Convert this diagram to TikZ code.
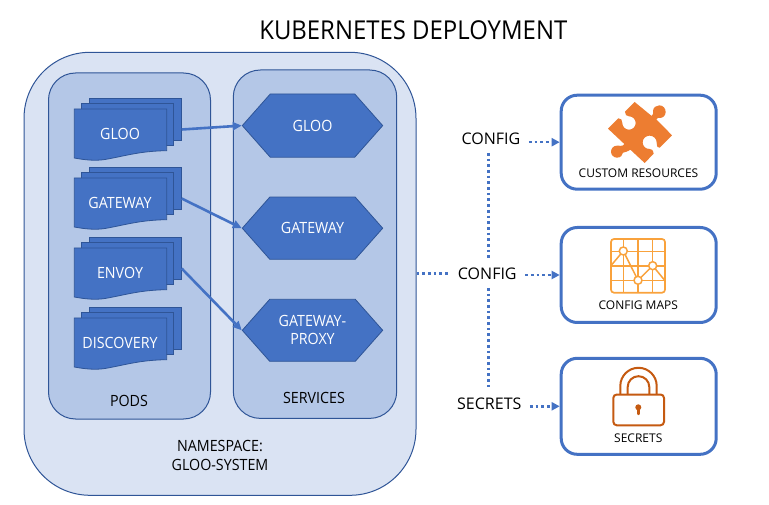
\documentclass[tikz,border=0pt]{standalone}
\usepackage{fontspec}
\setmainfont{Open Sans}
\newfontfamily\narrowfamily[FakeStretch=0.92]{Open Sans}
\usetikzlibrary{arrows.meta,shapes.symbols}
\definecolor{paleblue}{HTML}{DAE3F3}
\definecolor{midblue}{HTML}{B4C7E7}
\definecolor{solidblue}{HTML}{4472C4}
\definecolor{edgeblue}{HTML}{2F5597}
\definecolor{puzzleorange}{HTML}{ED7D31}
\definecolor{maporange}{HTML}{F9A23C}
\definecolor{lockorange}{HTML}{C55A11}
\def\bigfont{\narrowfamily\fontsize{26}{30}\selectfont}
\def\midfont{\narrowfamily\fontsize{15.5}{18.3}\selectfont}
\def\tagfont{\fontsize{16}{18}\selectfont}
\def\smallfont{\fontsize{12}{14}\selectfont}
\tikzset{
	panel/.style={draw=edgeblue, line width=1pt, inner sep=0pt},
	podsheet/.style={draw=edgeblue, fill=solidblue, line width=0.8pt, inner sep=0pt},
	bluetext/.style={text=white, font=\midfont, inner sep=0pt, align=center},
	blacktext/.style={text=black, font=\midfont, inner sep=0pt, align=center},
	hexbox/.style={shape=signal, signal to=east and west, signal pointer angle=97, draw=edgeblue, fill=solidblue, line width=0.8pt, inner sep=0pt, minimum width=140.4pt, text=white, font=\midfont, align=center},
	sidebox/.style={draw=solidblue, fill=white, line width=3pt, rounded corners=16pt, minimum width=155pt, inner sep=0pt},
	sidetext/.style={text=black, font=\smallfont, inner sep=0pt},
	tagtext/.style={text=black, font=\tagfont, inner xsep=8.5pt, inner ysep=8.7pt, outer sep=0pt},
	podarrow/.style={draw=solidblue, line width=2.6pt, -{Triangle[length=9pt,width=8pt]}},
	dotline/.style={draw=solidblue, line width=2.6pt, dash pattern=on 2.7pt off 3pt},
	dotarrow/.style={dotline, -{Triangle[length=8pt,width=8pt]}}
}
\def\podstack(#1)(#2)#3{
	\begin{scope}[shift={(0,#2)}]
		\node[podsheet, minimum width=92.7pt, minimum height=41.7pt] (#1back) at (135.35,10.15) {};
		\node[podsheet, minimum width=92pt, minimum height=42.4pt] (#1mid) at (127.7,15.5) {};
		\draw[podsheet] (74.3,0) -- (166.7,0) -- (166.7,41.7) .. controls (140,42) and (125,47) .. (105,50.5) .. controls (95,52) and (85,51) .. (74.3,49) -- cycle;
		\node[bluetext] (#1) at (120,24.5) {#3};
		\coordinate (#1out) at (181.7,20.5);
	\end{scope}
}

\begin{document}
\begin{tikzpicture}[x=1pt,y=-1pt]
	%%%%% START %%%%%
	\useasboundingbox (0,0) rectangle (769,505);

	\node[text=black, font=\bigfont, inner sep=0pt] (title) at (413.3,30) {KUBERNETES DEPLOYMENT};

	\node[panel, fill=paleblue, rounded corners=66pt, minimum width=392pt, minimum height=443pt] (namespace) at (220,273.8) {};
	\node[panel, fill=midblue, rounded corners=27pt, minimum width=162pt, minimum height=346pt] (pods) at (129.5,246) {};
	\node[panel, fill=midblue, rounded corners=27pt, minimum width=163.4pt, minimum height=348.4pt] (services) at (315,244.2) {};

	\podstack(gloo)(109){GLOO}
	\podstack(gateway)(178){GATEWAY}
	\podstack(envoy)(248){ENVOY}
	\podstack(discovery)(318){DISCOVERY}

	\node[hexbox, minimum height=63.3pt] (hexgloo) at (312.5,125.6) {GLOO};
	\node[hexbox, minimum height=62.3pt] (hexgateway) at (312.5,228.2) {GATEWAY};
	\node[hexbox, minimum height=62pt] (hexproxy) at (312.5,330.3) {GATEWAY-\\PROXY};

	\draw[podarrow] (glooout) -- (hexgloo.west);
	\draw[podarrow] (gatewayout) -- (hexgateway.west);
	\draw[podarrow] (envoyout) -- (hexproxy.west);

	\node[blacktext] (podslabel) at (129,400.7) {PODS};
	\node[blacktext] (serviceslabel) at (314,397.7) {SERVICES};
	\node[blacktext] (namespacelabel) at (220,455.5) {NAMESPACE:\\GLOO-SYSTEM};

	\node[sidebox, minimum height=94pt] (customres) at (638.7,142.2) {};
	\node[sidebox, minimum height=95pt] (configmaps) at (638.7,275) {};
	\node[sidebox, minimum height=96pt] (secretsbox) at (638.7,406.3) {};

	\node[sidetext] (customlabel) at (638.5,173.3) {CUSTOM RESOURCES};
	\node[sidetext] (mapslabel) at (638.3,305.7) {CONFIG MAPS};
	\node[sidetext] (secretslabel) at (638.3,438.3) {SECRETS};

	\node[tagtext] (tagcustom) at (491,138.3) {CONFIG};
	\node[tagtext] (tagmaps) at (487.3,273.3) {CONFIG};
	\node[tagtext] (tagsecrets) at (489.3,404) {SECRETS};

	\coordinate (spine) at (488.7,0);
	\draw[dotline] (namespace.east) -- (namespace.east -| tagmaps.west);
	\draw[dotline] (tagcustom.south -| spine) -- (tagmaps.north -| spine);
	\draw[dotline] (tagmaps.south -| spine) -- (tagsecrets.north -| spine);
	\draw[dotarrow] (customres.west -| tagcustom.east) -- (customres.west);
	\draw[dotarrow] (configmaps.west -| tagmaps.east) -- (configmaps.west);
	\draw[dotarrow] (secretsbox.west -| tagsecrets.east) -- (secretsbox.west);

	% puzzle piece
	\begin{scope}[shift={(603,98)}, x=0.3333pt, y=-0.3333pt]
		\fill[puzzleorange] (95,12) -- (146,54) .. controls (153,50) and (150,44) .. (150,40) .. controls (150,28) and (160,22) .. (169,22) .. controls (180,22) and (188,31) .. (188,42) .. controls (188,54) and (178,60) .. (171,60) .. controls (167,60) and (162,58) .. (160,64) -- (207,112) -- (170,149) .. controls (165,152) and (161,146) .. (161,133) .. controls (161,122) and (151,113) .. (140,113) .. controls (128,113) and (119,122) .. (119,133) .. controls (119,145) and (128,153) .. (140,153) .. controls (146,153) and (150,155) .. (152,167) -- (125,195) -- (82,155) .. controls (76,160) and (62,164) .. (60,164) .. controls (60,172) and (52,179) .. (42,179) .. controls (32,179) and (24,171) .. (24,161) .. controls (24,151) and (32,143) .. (42,143) .. controls (50,143) and (60,146) .. (64,138) -- (15,92) -- (46,61) .. controls (54,60) and (58,66) .. (58,75) .. controls (58,86) and (67,95) .. (78,95) .. controls (89,95) and (98,86) .. (98,75) .. controls (98,64) and (89,55) .. (78,55) .. controls (70,55) and (66,50) .. (66,41) -- cycle;
	\end{scope}

	% map icon
	\draw[maporange, line width=1.7pt, rounded corners=3pt] (611,239) rectangle (665,292.7);
	\draw[maporange, line width=1.5pt] (623.3,239) -- (623.3,292.7);
	\draw[maporange, line width=1.5pt] (638,239) -- (638,292.7);
	\draw[maporange, line width=1.5pt] (652.7,239) -- (652.7,292.7);
	\draw[maporange, line width=1.5pt] (611,251.7) -- (665,251.7);
	\draw[maporange, line width=1.5pt] (611,266) -- (665,266);
	\draw[maporange, line width=1.5pt] (611,280.7) -- (665,280.7);
	\draw[maporange, line width=1.5pt] (611.5,265) -- (623.3,251) -- (638,280.3) -- (652.7,265.7) -- (665,280.7);
	\draw[maporange, fill=white, line width=1.5pt] (623.3,251) circle (4);
	\draw[maporange, fill=white, line width=1.5pt] (638,280.3) circle (4);
	\draw[maporange, fill=white, line width=1.5pt] (652.7,265.7) circle (4);

	% padlock
	\draw[lockorange, line width=2pt, rounded corners=3.5pt] (613.3,394.5) rectangle (664,425.3);
	\draw[lockorange, line width=2pt] (620.3,394.5) -- (620.3,386) arc (180:360:18.2) -- (656.7,394.5);
	\draw[lockorange, line width=2pt] (627.7,394.5) -- (627.7,387) arc (180:360:10.8) -- (649.3,394.5);
	\fill[lockorange] (638.3,407.3) circle (3);
	\draw[lockorange, line width=2.4pt, line cap=round] (638.3,407.3) -- (638.3,414);
	%%%%% END %%%%%
\end{tikzpicture}
\end{document}
